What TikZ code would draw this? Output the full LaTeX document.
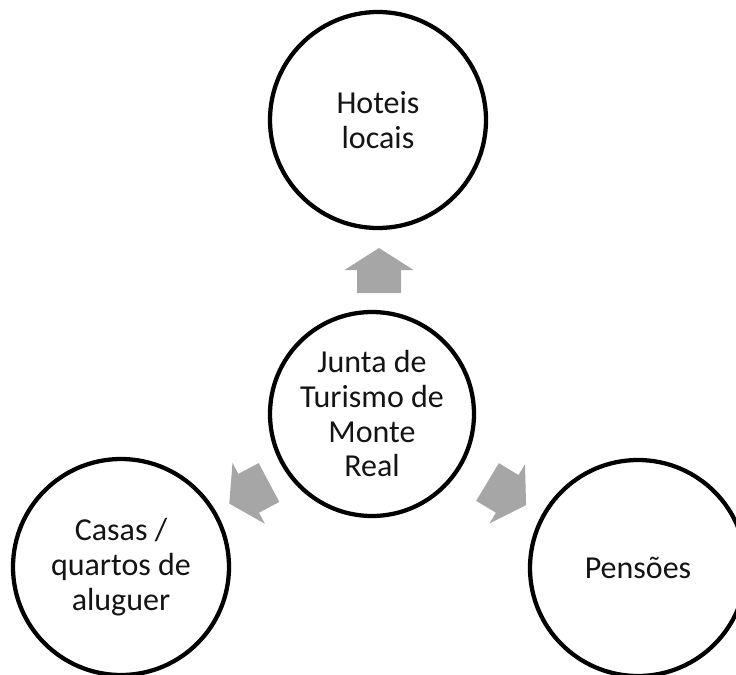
\documentclass[tikz,border=0pt]{standalone}
\usepackage{fontspec}
\setmainfont{Carlito}
\usetikzlibrary{calc}
\definecolor{arrowgray}{RGB}{166,166,166}
\definecolor{textdark}{RGB}{20,20,20}
\tikzset{
  bubble/.style={circle, draw=black, line width=3.2pt, fill=white, inner sep=0pt,
    align=center, text=textdark, font=\fontsize{24}{26}\selectfont},
  bigbubble/.style={bubble, minimum size=162pt},
  hubbubble/.style={bubble, minimum size=153pt},
  blockarrow/.style={fill=arrowgray}
}
\newcommand{\blockarr}[2]{%
  \fill[blockarrow, shift={(#1)}, rotate=#2]
    (0,-22) -- (23,-22) -- (23,-34.5) -- (45,0) -- (23,34.5) -- (23,22) -- (0,22) -- cycle;}
\begin{document}
\begin{tikzpicture}[x=0.75pt, y=-0.75pt]
  \useasboundingbox (0,0) rectangle (736,675);
  \node[bigbubble] (hotel) at (378,120) {Hoteis\\locais};
  \node[hubbubble] (hub) at (372,414) {Junta de\\Turismo de\\Monte\\Real};
  \node[bigbubble] (casas) at (121,567) {Casas /\\quartos de\\aluguer};
  \node[bigbubble] (pens) at (638,568) {Pensões};
  \coordinate (aup) at (379,293);
  \coordinate (aleft) at (269,482.5);
  \coordinate (aright) at (487.5,482);
  \blockarr{aup}{90}
  \blockarr{aleft}{208}
  \blockarr{aright}{-31}
\end{tikzpicture}
\end{document}
